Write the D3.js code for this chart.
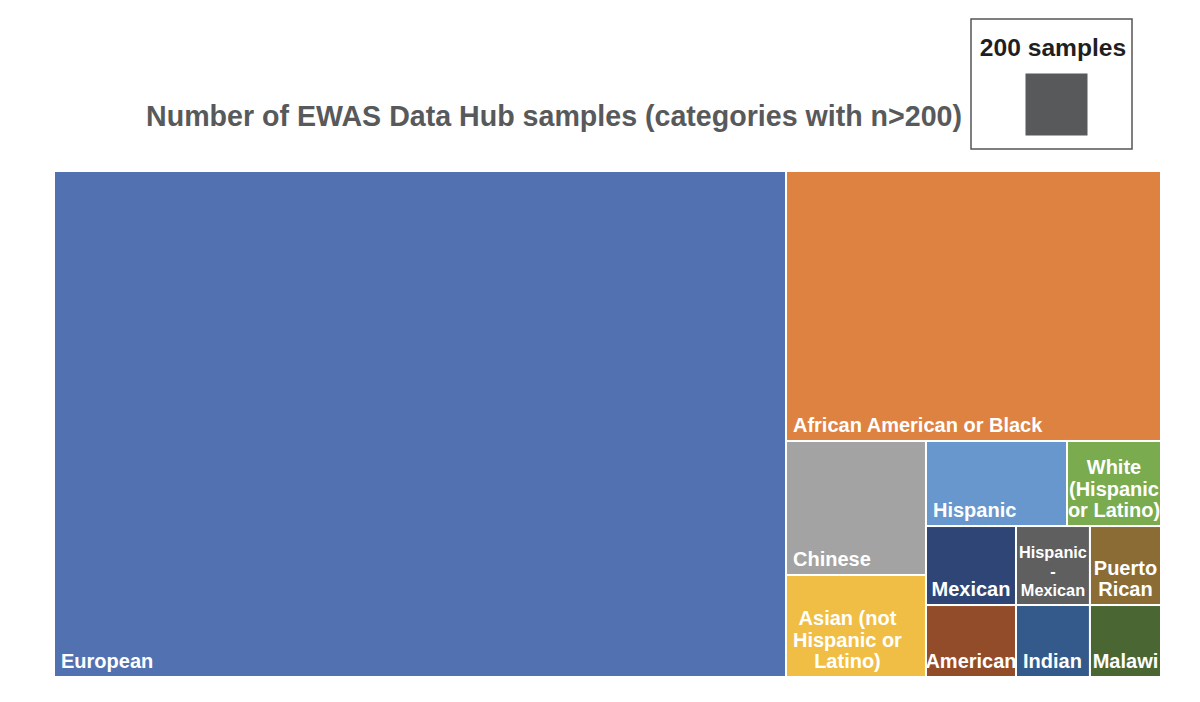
<!DOCTYPE html>
<html>
<head>
<meta charset="utf-8">
<script src="https://cdn.jsdelivr.net/npm/d3@7/dist/d3.min.js"></script>
<style>
  body { margin: 0; background: #fff; }
  text { font-family: "Liberation Sans", Arial, sans-serif; font-weight: bold; }
</style>
</head>
<body>
<div id="chart"></div>
<script>
// sample counts per ethnicity category
var categories = ['European', 'African American or Black', 'Chinese', 'Asian (not Hispanic or Latino)',
  'Hispanic', 'White (Hispanic or Latino)', 'Mexican', 'Hispanic-Mexican', 'Puerto Rican',
  'American', 'Indian', 'Malawi'];
var labels = ['European', 'African American or Black', 'Chinese', 'Asian (not\nHispanic or\nLatino)',
  'Hispanic', 'White\n(Hispanic\nor Latino)', 'Mexican', 'Hispanic\n-\nMexican', 'Puerto\nRican',
  'American', 'Indian', 'Malawi'];
var samples = [19272, 5268, 976, 743, 624, 416, 370, 304, 292, 337, 277, 266];
var colours = ['#5271b0', '#de8241', '#a3a3a3', '#f1be45', '#6797cc', '#7aac4f',
  '#2e4576', '#5f5f5f', '#8c6c35', '#924c2a', '#335a8b', '#4a6633'];
// grouping of the cells (index lists), split direction alternates by depth
var nesting = [0, [1, [[2, 3], [[4, 5], [[6, 9], [7, 10], [8, 11]]]]]];
var legendSamples = 200;

var W = 1200, H = 702;
var plot = {x0: 54, y0: 171, x1: 1161, y1: 677};

var svg = d3.select('#chart').append('svg')
  .attr('width', W)
  .attr('height', H);

function toNode(item) {
  if (Array.isArray(item)) {
    return {children: item.map(toNode)};
  }
  return {idx: item, name: categories[item], value: samples[item]};
}

var root = d3.hierarchy(toNode(nesting))
  .sum(function(d) { return d.value || 0; });

d3.treemap()
  .tile(d3.treemapSliceDice)
  .size([plot.x1 - plot.x0, plot.y1 - plot.y0])
  .round(false)(root);

var g = svg.append('g')
  .attr('transform', 'translate(' + plot.x0 + ',' + plot.y0 + ')');

var leaves = root.leaves();

g.selectAll('rect.cell')
  .data(leaves)
  .enter().append('rect')
  .attr('class', 'cell')
  .attr('x', function(d) { return d.x0; })
  .attr('y', function(d) { return d.y0; })
  .attr('width', function(d) { return d.x1 - d.x0; })
  .attr('height', function(d) { return d.y1 - d.y0; })
  .style('fill', function(d) { return colours[d.data.idx]; })
  .style('stroke', '#fff')
  .style('stroke-width', 2);

// labels: block sits bottom-left, lines centred inside the block
leaves.forEach(function(d) {
  var lines = labels[d.data.idx].split('\n');
  var w = d.x1 - d.x0;
  var size = 20;
  var t = g.append('text')
    .attr('font-size', size)
    .style('fill', '#fff');
  var spans = lines.map(function(l) { return t.append('tspan').text(l); });
  var widths = spans.map(function(s) { return s.node().getComputedTextLength(); });
  var blockW = d3.max(widths);
  var lh = size * 1.07;
  if (blockW > w * 1.05) {
    // too wide: shrink to fit the cell
    size = size * (w - 6) / blockW;
    t.attr('font-size', size);
    blockW = w - 6;
    lh = size * 1.18;
  }
  var left = blockW <= w - 14 ? d.x0 + 7 : d.x0 + (w - blockW) / 2;
  var cx = left + blockW / 2;
  var lastY = d.y1 - 9;
  spans.forEach(function(s, i) {
    s.attr('x', cx)
      .attr('y', lastY - (lines.length - 1 - i) * lh)
      .attr('text-anchor', 'middle');
  });
});

// title
svg.append('text')
  .attr('x', 962)
  .attr('y', 126)
  .attr('text-anchor', 'end')
  .attr('font-size', 28.6)
  .style('fill', '#58595b')
  .text('Number of EWAS Data Hub samples (categories with n>200)');

// legend: square with area of 200 samples on the same scale
var pxPerSample = (plot.x1 - plot.x0) * (plot.y1 - plot.y0) / d3.sum(samples);
var side = Math.sqrt(legendSamples * pxPerSample);
var lg = svg.append('g');
lg.append('rect')
  .attr('x', 971)
  .attr('y', 19)
  .attr('width', 161)
  .attr('height', 130)
  .style('fill', 'none')
  .style('stroke', '#555')
  .style('stroke-width', 1.5);
lg.append('text')
  .attr('x', 1053)
  .attr('y', 56)
  .attr('text-anchor', 'middle')
  .attr('font-size', 24.6)
  .style('fill', '#1f1f1f')
  .text(legendSamples + ' samples');
lg.append('rect')
  .attr('x', 1056.5 - side / 2)
  .attr('y', 104.5 - side / 2)
  .attr('width', side)
  .attr('height', side)
  .style('fill', '#58595b');
</script>
</body>
</html>
